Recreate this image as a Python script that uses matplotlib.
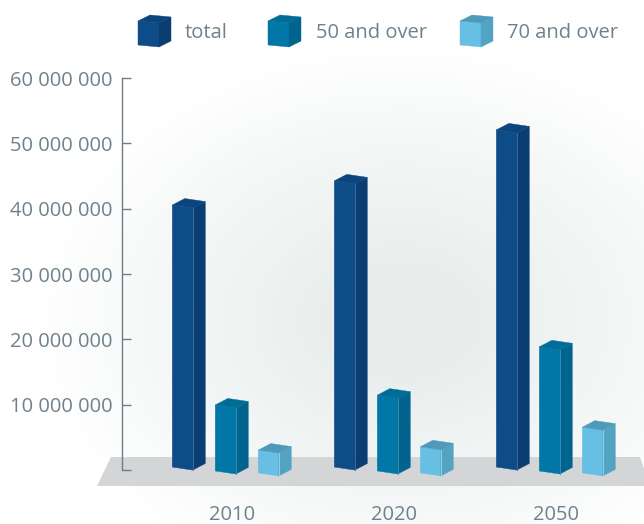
import numpy as np
import matplotlib
matplotlib.use('Agg')
import matplotlib.pyplot as plt
from matplotlib.patches import Polygon
from matplotlib.transforms import Affine2D, blended_transform_factory

years = ['2010', '2020', '2050']
series = ['total', '50 and over', '70 and over']
total = [40.1e6, 43.8e6, 51.6e6]
over50 = [10.1e6, 11.6e6, 19.0e6]
over70 = [3.5e6, 4.0e6, 7.0e6]
yticks = [0, 10e6, 20e6, 30e6, 40e6, 50e6, 60e6]
ytick_labels = ['', '10 000 000', '20 000 000', '30 000 000', '40 000 000',
                '50 000 000', '60 000 000']

# front / side / top colours per series
colors = [
    ('#0e4c88', '#0a3e72', '#0b457f'),
    ('#0077a7', '#00648e', '#006c98'),
    ('#67c0e4', '#53a3c3', '#4f99ba'),
]
edge_light = ['#3c73a8', '#3993bb', '#9ad6ef']
text_color = '#6f828c'
axis_color = '#6d7e88'
fs = 14.5

plt.rcParams['font.family'] = ['Open Sans', 'DejaVu Sans']

W, H = 644, 524
fig = plt.figure(figsize=(W / 100, H / 100), dpi=100)
px = Affine2D().scale(1 / W, -1 / H).translate(0, 1) + fig.transFigure

# background: soft radial glow
bg = fig.add_axes([0, 0, 1, 1], zorder=-10)
yy, xx = np.mgrid[0:H, 0:W]
d = np.sqrt(((xx - 400) / 330) ** 2 + ((yy - 320) / 250) ** 2)
t = np.clip(1 - (d - 0.25) / 0.85, 0, 1)
c_in = np.array([0.915, 0.935, 0.933])
img = 1 - t[..., None] * (1 - c_in)
bg.imshow(img, extent=[0, W, H, 0], aspect='auto')
bg.set_axis_off()

# floor
floor = Polygon([(111, 457), (640, 457), (650, 486), (97, 486)], closed=True,
                facecolor='#d4d5d7', edgecolor='none', transform=px, zorder=-5)
fig.patches.append(floor)

ax = fig.add_axes([122 / W, 54 / H, (W - 122) / W, 392 / H])
ax.patch.set_visible(False)
ax.set_xlim(-0.639, 2.583)
ax.set_ylim(0, 60e6)
for s in ['top', 'right', 'bottom']:
    ax.spines[s].set_visible(False)
ax.spines['left'].set_color(axis_color)
ax.spines['left'].set_linewidth(1.0)
ax.set_yticks(yticks)
ax.set_yticklabels(ytick_labels)
ax.tick_params(axis='y', direction='in', length=6.5, width=1.0, color=axis_color,
               labelcolor=text_color, labelsize=fs, pad=7)
ax.set_xticks([])

offset = 43 / 162
w = 20.5 / 162
dx = 12.5 / 162
dy = 1.0e6
slant = 0.46e6
base = [0.45e6, -0.15e6, -0.45e6]


def bar3d(ax, xc, v, b, cols, light):
    x0, x1 = xc - w / 2, xc + w / 2
    top = b + v
    front = [(x0, b), (x1, b - slant), (x1, top - slant), (x0, top)]
    side = [(x1, b - slant), (x1 + dx, b - slant + dy), (x1 + dx, top - slant + dy),
            (x1, top - slant)]
    lid = [(x0, top), (x1, top - slant), (x1 + dx, top - slant + dy), (x0 + dx, top + dy)]
    for poly, c in zip([front, side, lid], cols):
        ax.add_patch(Polygon(poly, closed=True, facecolor=c, edgecolor=c, lw=0.3,
                             clip_on=False, zorder=3))
    ax.plot([x1, x1], [b - slant, top - slant], color=light, lw=0.6, zorder=4,
            clip_on=False)


for i, vals in enumerate([total, over50, over70]):
    for g, v in enumerate(vals):
        bar3d(ax, g + (i - 1) * offset, v, base[i], colors[i], edge_light[i])

# year labels
tr = blended_transform_factory(ax.transData, fig.transFigure)
for g, yr in enumerate(years):
    ax.text(g + 0.04, 1 - 515 / H, yr, transform=tr, ha='center', va='center',
            fontsize=fs, color=text_color)


# legend with little cubes
def cube(x, cols, light):
    fx0, fx1, sx = x, x + 21, x + 33
    front = [(fx0, 21), (fx1, 23), (fx1, 47), (fx0, 45)]
    side = [(fx1, 23), (sx, 17), (sx, 41), (fx1, 47)]
    lid = [(fx0, 21), (fx1, 23), (sx, 17), (fx0 + 12, 15)]
    for poly, c in zip([front, side, lid], cols):
        fig.patches.append(Polygon(poly, closed=True, facecolor=c, edgecolor=c,
                                   lw=0.3, transform=px))


leg_x = [138, 268, 460]
txt_x = [185, 316, 507]
for i, name in enumerate(series):
    cube(leg_x[i], colors[i], edge_light[i])
    fig.text(txt_x[i] / W, 1 - 33 / H, name, ha='left', va='center', fontsize=fs,
             color=text_color)

fig.savefig('out.png', dpi=100)
